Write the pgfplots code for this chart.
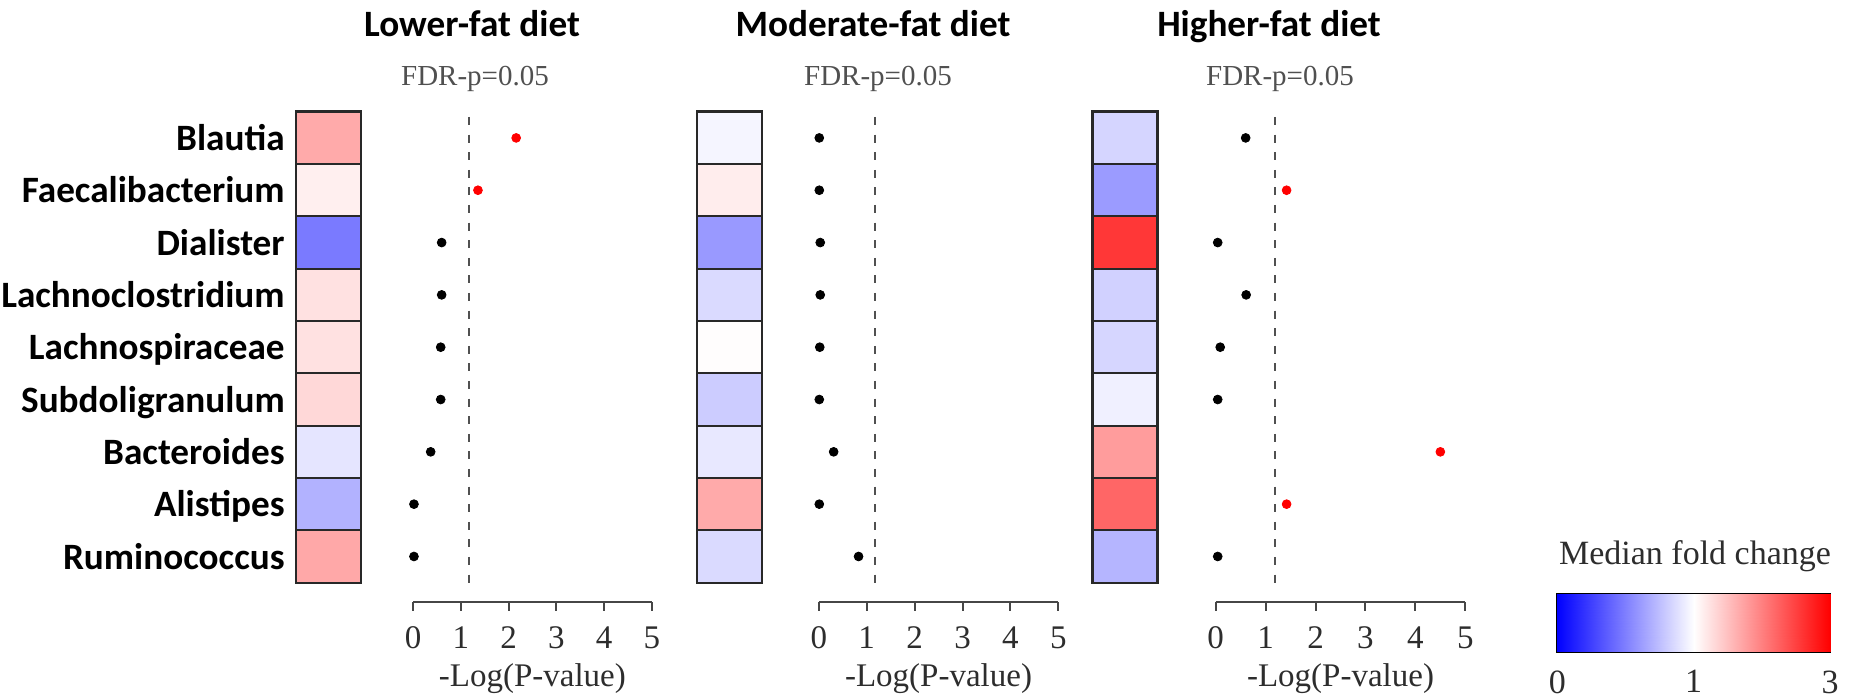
\documentclass[border=0pt]{standalone}
\usepackage{pgfplots}
\pgfplotsset{compat=1.18}
\usepackage{pgfplotstable}
\usepackage{fontspec}
\setmainfont{Liberation Serif}
\newfontfamily\carlito{Carlito}

\definecolor{axgray}{RGB}{70,70,70}
\definecolor{dashgray}{RGB}{80,80,80}
\definecolor{txtgray}{RGB}{45,45,45}
\definecolor{fdrgray}{RGB}{80,80,80}
\definecolor{cellline}{RGB}{40,40,40}

\pgfdeclareplotmark{cell}{%
  \pgfpathrectangle{\pgfpoint{-16.125pt}{-13.083pt}}{\pgfpoint{32.25pt}{26.167pt}}%
  \pgfusepathqfillstroke}

% median fold change per genus (row 0 = Blautia ... row 8 = Ruminococcus)
\pgfplotstableread{
row f
0 1.67
1 1.13
2 0.48
3 1.24
4 1.24
5 1.31
6 0.90
7 0.70
8 1.68
}\heatA
\pgfplotstableread{
row f
0 0.96
1 1.14
2 0.60
3 0.855
4 1.02
5 0.80
6 0.91
7 1.67
8 0.855
}\heatB
\pgfplotstableread{
row f
0 0.835
1 0.61
2 2.57
3 0.82
4 0.84
5 0.94
6 1.78
7 2.20
8 0.71
}\heatC

% -log(P) per genus; s = significant (red), n = not
\pgfplotstableread{
row p sig
0 2.16 s
1 1.36 s
2 0.60 n
3 0.60 n
4 0.58 n
5 0.58 n
6 0.37 n
7 0.02 n
8 0.02 n
}\dotsA
\pgfplotstableread{
row p sig
0 0.01 n
1 0.01 n
2 0.03 n
3 0.03 n
4 0.02 n
5 0.01 n
6 0.31 n
7 0.01 n
8 0.83 n
}\dotsB
\pgfplotstableread{
row p sig
0 0.60 n
1 1.42 s
2 0.04 n
3 0.61 n
4 0.09 n
5 0.04 n
6 4.50 s
7 1.42 s
8 0.04 n
}\dotsC

\pgfplotsset{
  bwrmap/.style={colormap={bwr}{rgb255(0cm)=(0,0,255) rgb255(1cm)=(255,255,255) rgb255(2cm)=(255,0,0)},
    point meta min=0, point meta max=2},
  heat/.style={scale only axis, anchor=south west, width=32.25pt, height=235.5pt,
    xmin=0, xmax=1, ymin=-8.5, ymax=0.5, xtick=\empty, ytick=\empty,
    axis line style={line width=1.3pt, draw=cellline}, clip=false, bwrmap},
  heatplot/.style={scatter, only marks, mark=cell,
    point meta={ifthenelse(\thisrow{f}<1,\thisrow{f},1+(\thisrow{f}-1)/2)},
    scatter/use mapped color={draw=cellline, fill=mapped color},
    mark options={line width=1pt}},
  dots/.style={scale only axis, anchor=south west, height=242.5pt,
    xmin=0, xmax=5, ymin=-8.87, ymax=0.4,
    axis y line=none, axis x line*=bottom,
    axis line style={draw=axgray, line width=1pt},
    xtick={0,1,2,3,4,5}, tick align=outside, major tick length=4.5pt,
    tick style={draw=axgray, line width=1pt},
    /pgf/number format/assume math mode=true,
    xticklabel style={font=\fontsize{16.5}{16.5}\selectfont, text=txtgray, anchor=north, inner sep=0pt, yshift=-7.8pt},
    xlabel={-Log(P-value)},
    xlabel style={at={(axis description cs:0.5,-0.1746)}, anchor=base, inner sep=0pt,
      font=\fontsize{16.5}{16.5}\selectfont, text=txtgray},
    clip=false},
  dashline/.style={draw=dashgray, line width=1.1pt, dash pattern=on 4pt off 4.8pt},
  dotplot/.style={scatter, only marks, scatter src=explicit symbolic, mark size=2.2pt,
    scatter/classes={n={mark=*, draw=black, fill=black}, s={mark=*, draw=red, fill=red}}},
}

\begin{document}
\begin{tikzpicture}
% ---------- heatmaps ----------
\begin{axis}[heat, at={(148pt,58.15pt)},
  ytick={-8,-7,-6,-5,-4,-3,-2,-1,0},
  yticklabels={Ruminococcus,Alistipes,Bacteroides,Subdoligranulum,Lachnospiraceae,Lachnoclostridium,Dialister,Faecalibacterium,Blautia},
  major tick length=0pt,
  yticklabel style={anchor=base east, inner sep=0pt, xshift=-5.5pt, yshift=-6.3pt,
    font=\carlito\bfseries\fontsize{18.6}{18.6}\selectfont}]
\addplot[heatplot] table[x expr=0.5, y expr=-\thisrow{row}] {\heatA};
\end{axis}
\begin{axis}[heat, at={(348.5pt,58.15pt)}]
\addplot[heatplot] table[x expr=0.5, y expr=-\thisrow{row}] {\heatB};
\end{axis}
\begin{axis}[heat, at={(546.35pt,58.15pt)}]
\addplot[heatplot] table[x expr=0.5, y expr=-\thisrow{row}] {\heatC};
\end{axis}
% ---------- dot plots ----------
\begin{axis}[dots, at={(206.5pt,48.5pt)}, width=119.4pt]
\addplot[dashline] coordinates {(1.18,0.4) (1.18,-8.58)};
\addplot[dotplot] table[x=p, y expr=-\thisrow{row}, meta=sig] {\dotsA};
\end{axis}
\begin{axis}[dots, at={(409.4pt,48.5pt)}, width=119.75pt]
\addplot[dashline] coordinates {(1.18,0.4) (1.18,-8.58)};
\addplot[dotplot] table[x=p, y expr=-\thisrow{row}, meta=sig] {\dotsB};
\end{axis}
\begin{axis}[dots, at={(607.85pt,48.5pt)}, width=124.8pt]
\addplot[dashline] coordinates {(1.18,0.4) (1.18,-8.58)};
\addplot[dotplot] table[x=p, y expr=-\thisrow{row}, meta=sig] {\dotsC};
\end{axis}
% ---------- colour bar ----------
\begin{axis}[scale only axis, anchor=south west, at={(778.65pt,23.65pt)},
  width=136.35pt, height=28.85pt, xmin=0, xmax=2, ymin=0, ymax=1, bwrmap,
  xtick={0,1,2}, xticklabels={0,1,3}, ytick=\empty,
  tick align=inside, xtick pos=both, xticklabel pos=lower, major tick length=5.5pt,
  tick style={draw=axgray, line width=1.2pt},
  axis line style={draw=black, line width=1.1pt},
  xticklabel style={font=\fontsize{17}{17}\selectfont, text=txtgray, anchor=north, inner sep=0pt, yshift=-9.2pt}]
\addplot[surf, shader=interp, point meta=x, mesh/cols=3, mesh/rows=2] coordinates {(0,0) (1,0) (2,0) (0,1) (1,1) (2,1)};
\end{axis}
% ---------- texts ----------
\begin{scope}[every node/.style={inner sep=0pt, anchor=base}]
\node[font=\carlito\bfseries\fontsize{18.6}{18.6}\selectfont] at (236pt,331pt) {Lower-fat diet};
\node[font=\carlito\bfseries\fontsize{18.6}{18.6}\selectfont] at (436.5pt,331pt) {Moderate-fat diet};
\node[font=\carlito\bfseries\fontsize{18.6}{18.6}\selectfont] at (634.5pt,331pt) {Higher-fat diet};
\node[font=\fontsize{14.5}{14.5}\selectfont, text=fdrgray] at (237.5pt,306.5pt) {FDR-p=0.05};
\node[font=\fontsize{14.5}{14.5}\selectfont, text=fdrgray] at (439pt,306.5pt) {FDR-p=0.05};
\node[font=\fontsize{14.5}{14.5}\selectfont, text=fdrgray] at (640pt,306.5pt) {FDR-p=0.05};
\node[font=\fontsize{17}{17}\selectfont, text=txtgray] at (847.5pt,67pt) {Median fold change};
\end{scope}
\pgfresetboundingbox
\path[use as bounding box] (0,0) rectangle (927.5pt,349.5pt);
\end{tikzpicture}
\end{document}
